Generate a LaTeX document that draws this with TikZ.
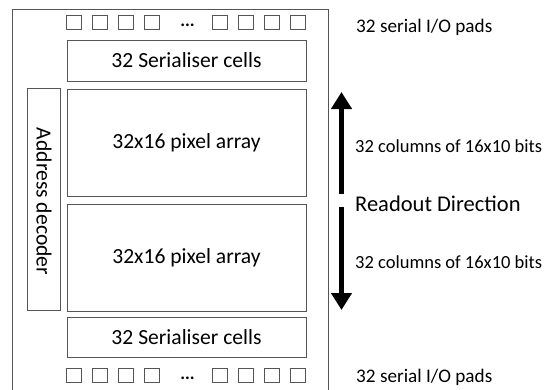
\documentclass[tikz,border=0pt]{standalone}
\usepackage{fontspec}
\setmainfont{Carlito}
\usetikzlibrary{arrows.meta}
\definecolor{edge}{HTML}{555555}
\begin{document}
\begin{tikzpicture}[x=1pt,y=-1pt,
  blk/.style={draw=edge,line width=0.9pt,inner sep=0pt,font=\fontsize{21.6}{24}\selectfont},
  pad/.style={draw=edge,line width=0.9pt,minimum width=14.5pt,minimum height=14.5pt,inner sep=0pt},
  lbl/.style={anchor=west,font=\fontsize{19.2}{21}\selectfont,inner sep=0pt},
  bigarrow/.style={line width=5pt,-{Triangle[width=20pt,length=17pt]}}]
\useasboundingbox (0,0) rectangle (547,389);
% outer chip outline (open at bottom)
\draw[edge,line width=0.9pt] (12,395) -- (12,9) -- (328,9) -- (328,395);
% pads
\foreach \x/\n in {74/a,100/b,126/c,152/d,220/e,246/f,272/g,298/h}{
  \node[pad] (t\n) at (\x,22.5) {};
  \node[pad] (b\n) at (\x,375.5) {};
}
\node[anchor=base,inner sep=0pt,font=\fontsize{18}{20}\selectfont\bfseries] (tdots) at (187.5,26) {...};
\node[anchor=base,inner sep=0pt,font=\fontsize{18}{20}\selectfont\bfseries] (bdots) at (187.5,379) {...};
% serialisers
\node[blk,minimum width=239pt,minimum height=41pt] (sertop) at (186.5,60.5) {32 Serialiser cells};
\node[blk,minimum width=239pt,minimum height=40pt] (serbot) at (186.5,337) {32 Serialiser cells};
% pixel arrays
\node[blk,minimum width=239pt,minimum height=107pt] (pa1) at (186.5,142.5) {32x16 pixel array};
\node[blk,minimum width=239pt,minimum height=107pt] (pa2) at (186.5,257.5) {32x16 pixel array};
% address decoder
\node[blk,minimum width=33pt,minimum height=222pt] (addr) at (43.5,199) {};
\node[rotate=-90,inner sep=0pt,font=\fontsize{21.6}{24}\selectfont] (addrtxt) at (44,201.5) {Address decoder};
% right labels
\node[lbl] (padstop) at (356,27) {32 serial I/O pads};
\node[lbl] (padsbot) at (356,377.5) {32 serial I/O pads};
\node[lbl,font=\fontsize{18.5}{20}\selectfont] (col1) at (355,146) {32 columns of 16x10 bits};
\node[lbl,font=\fontsize{22.5}{24}\selectfont] (rd) at (355,203.5) {Readout Direction};
\node[lbl,font=\fontsize{18.5}{20}\selectfont] (col2) at (355,262) {32 columns of 16x10 bits};
% arrows
\coordinate (upstart) at (341.5,194);
\coordinate (upend) at (341.5,92);
\coordinate (dnstart) at (341.5,207);
\coordinate (dnend) at (341.5,310);
\draw[bigarrow] (upstart) -- (upend);
\draw[bigarrow] (dnstart) -- (dnend);
\end{tikzpicture}
\end{document}
